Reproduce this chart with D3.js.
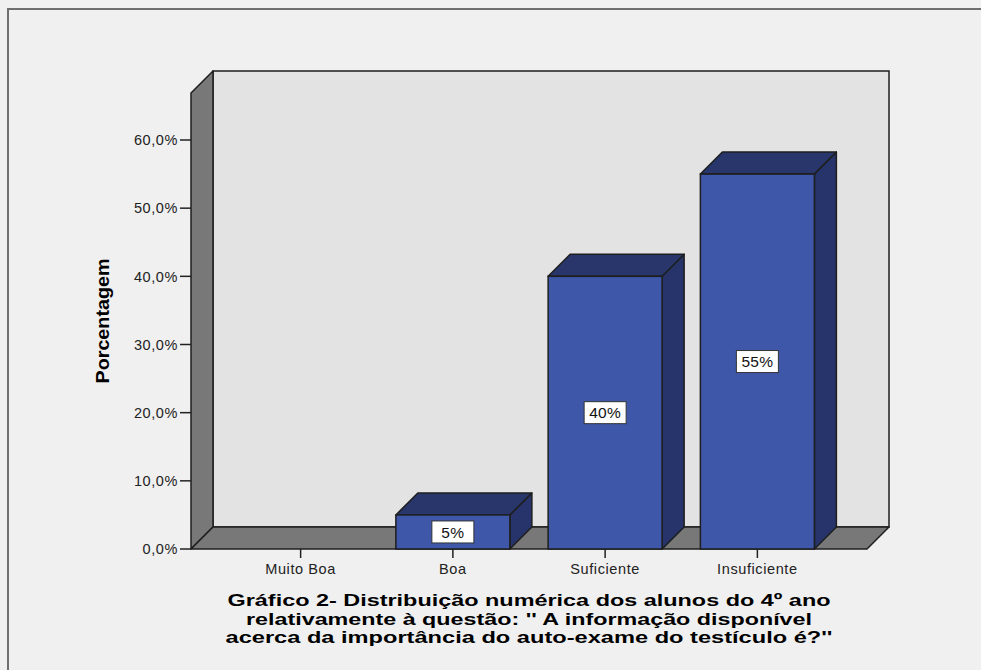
<!DOCTYPE html>
<html>
<head>
<meta charset="utf-8">
<script src="https://cdn.jsdelivr.net/npm/d3@7"></script>
<style>
  html, body { margin: 0; padding: 0; background: #f0f0f0; }
  svg { display: block; }
  text { font-family: "Liberation Sans", Arial, sans-serif; }
</style>
</head>
<body>
<svg id="chart" width="981" height="670"></svg>
<script>
const categories = ["Muito Boa", "Boa", "Suficiente", "Insuficiente"];
const values = [0, 5, 40, 55];
const barLabels = ["", "5%", "40%", "55%"];
const yTicks = [0, 10, 20, 30, 40, 50, 60];
const yTitle = "Porcentagem";
const titleLines = [
  "Gráfico 2- Distribuição numérica dos alunos do 4º ano",
  "relativamente à questão: '' A informação disponível",
  "acerca da importância do auto-exame do testículo é?''"
];

const svg = d3.select("#chart");

// layout
const x0 = 191, x1 = 867, yBase = 549, yTopFront = 93;
const dx = 22, dy = 22;
const barW = 114;

const y = d3.scaleLinear().domain([0, 60]).range([yBase, 140]);
const x = d3.scalePoint().domain(categories).range([x0, x1]).padding(0.72);

const wallGray = "#787878";
const edge = "#1e1e1e";

// outer frame
svg.append("rect").attr("x", 8).attr("y", 9).attr("width", 1000).attr("height", 700)
  .attr("fill", "#f0f0f0").attr("stroke", "#6e6e6e").attr("stroke-width", 2);

// back wall
svg.append("rect").attr("x", x0 + dx).attr("y", yTopFront - dy)
  .attr("width", x1 - x0).attr("height", yBase - yTopFront)
  .attr("fill", "#e3e3e3").attr("stroke", edge).attr("stroke-width", 1.5);

// left side wall
svg.append("polygon")
  .attr("points", [[x0, yTopFront], [x0 + dx, yTopFront - dy], [x0 + dx, yBase - dy], [x0, yBase]].map(p => p.join(",")).join(" "))
  .attr("fill", wallGray).attr("stroke", edge).attr("stroke-width", 1.5).attr("stroke-linejoin", "round");

// floor
svg.append("polygon")
  .attr("points", [[x0, yBase], [x0 + dx, yBase - dy], [x1 + dx, yBase - dy], [x1, yBase]].map(p => p.join(",")).join(" "))
  .attr("fill", wallGray).attr("stroke", edge).attr("stroke-width", 1.5).attr("stroke-linejoin", "round");

// y axis ticks and labels
const yAxisG = svg.append("g");
yAxisG.selectAll("line.tick").data(yTicks).enter().append("line")
  .attr("x1", x0 - 11).attr("x2", x0).attr("y1", d => y(d)).attr("y2", d => y(d))
  .attr("stroke", "#222").attr("stroke-width", 1.5);
yAxisG.selectAll("text.tick").data(yTicks).enter().append("text")
  .attr("x", x0 - 13).attr("y", d => y(d)).attr("dy", "0.36em")
  .attr("text-anchor", "end").attr("font-size", 14.5).attr("letter-spacing", 0.6)
  .attr("fill", "#222")
  .text(d => d3.format(".1f")(d).replace(".", ",") + "%");

// x ticks
svg.selectAll("line.xtick").data(categories).enter().append("line")
  .attr("x1", d => x(d)).attr("x2", d => x(d)).attr("y1", yBase).attr("y2", yBase + 9)
  .attr("stroke", "#222").attr("stroke-width", 1.5);
svg.selectAll("text.xlab").data(categories).enter().append("text")
  .attr("x", d => x(d)).attr("y", 574).attr("text-anchor", "middle")
  .attr("font-size", 14.5).attr("letter-spacing", 0.6).attr("fill", "#222")
  .text(d => d);

// bars
const data = categories.map((c, i) => ({ c, v: values[i], label: barLabels[i] })).filter(d => d.v > 0);
const bars = svg.selectAll("g.bar").data(data).enter().append("g").attr("class", "bar");
bars.append("polygon") // side
  .attr("points", d => {
    const r = x(d.c) + barW / 2, t = y(d.v);
    return [[r, t], [r + dx, t - dy], [r + dx, yBase - dy], [r, yBase]].map(p => p.join(",")).join(" ");
  })
  .attr("fill", "#26346b").attr("stroke", edge).attr("stroke-width", 1.5).attr("stroke-linejoin", "round");
bars.append("polygon") // top
  .attr("points", d => {
    const l = x(d.c) - barW / 2, r = x(d.c) + barW / 2, t = y(d.v);
    return [[l, t], [l + dx, t - dy], [r + dx, t - dy], [r, t]].map(p => p.join(",")).join(" ");
  })
  .attr("fill", "#28366c").attr("stroke", edge).attr("stroke-width", 1.5).attr("stroke-linejoin", "round");
bars.append("rect") // front
  .attr("x", d => x(d.c) - barW / 2).attr("y", d => y(d.v))
  .attr("width", barW).attr("height", d => yBase - y(d.v))
  .attr("fill", "#3e57a9").attr("stroke", edge).attr("stroke-width", 1.5);

// labels
const lab = bars.append("g")
  .attr("transform", d => `translate(${x(d.c)},${(y(d.v) + yBase) / 2})`);
lab.append("rect").attr("x", -21).attr("y", -11).attr("width", 42).attr("height", 22)
  .attr("fill", "#ffffff").attr("stroke", "#333").attr("stroke-width", 1);
lab.append("text").attr("text-anchor", "middle").attr("dy", "0.36em")
  .attr("font-size", 15.5).attr("letter-spacing", 0.3).attr("fill", "#111")
  .text(d => d.label);

// y axis title
svg.append("text")
  .attr("transform", `translate(109,${(yTopFront + yBase) / 2}) rotate(-90)`)
  .attr("text-anchor", "middle").attr("font-size", 18).attr("font-weight", "bold")
  .attr("fill", "#000").attr("textLength", 125).attr("lengthAdjust", "spacingAndGlyphs")
  .text(yTitle);

// chart title
const titleLens = [603, 566, 607];
svg.selectAll("text.title").data(titleLines).enter().append("text")
  .attr("x", 529).attr("y", (d, i) => 606 + i * 18.5)
  .attr("text-anchor", "middle").attr("font-size", 17).attr("font-weight", "bold")
  .attr("fill", "#000")
  .attr("textLength", (d, i) => titleLens[i]).attr("lengthAdjust", "spacingAndGlyphs")
  .text(d => d);
</script>
</body>
</html>
